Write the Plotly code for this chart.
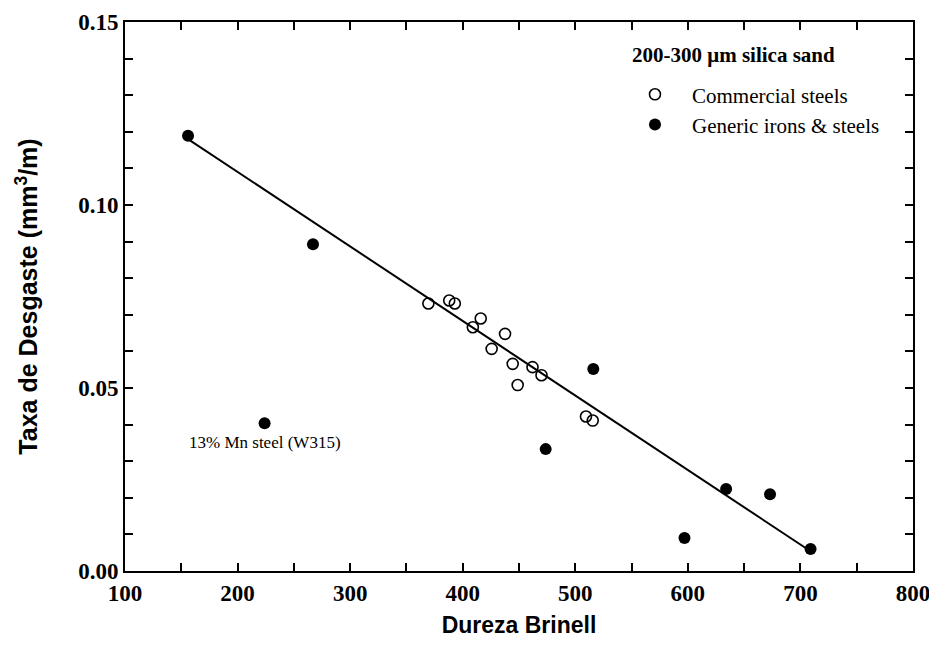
import plotly.graph_objects as go

# Commercial steels (open circles)
COMM_HB = [369.5, 388, 393, 409, 416, 425.7, 437.6, 444.4, 448.8, 462, 470, 509.5, 515.5]
COMM_WEAR = [0.0731, 0.0739, 0.0731, 0.0666, 0.0690, 0.0607, 0.0648, 0.0566, 0.0508, 0.0557, 0.0535, 0.0422, 0.0411]

# Generic irons & steels (filled circles)
GEN_HB = [156, 267, 224, 473.7, 516, 597, 634, 673, 709]
GEN_WEAR = [0.1189, 0.0893, 0.0404, 0.0333, 0.0552, 0.0090, 0.0224, 0.0210, 0.0060]

# Regression line
FIT_HB = [156, 710]
FIT_WEAR = [0.1180, 0.0052]

X_TICKS = list(range(100, 801, 50))
X_LABELS = [str(v) if v % 100 == 0 else "" for v in X_TICKS]
Y_TICKS = [i / 100 for i in range(0, 16)]
Y_LABELS = [f"{v:.2f}" if i % 5 == 0 else "" for i, v in enumerate(Y_TICKS)]

SERIF = "Liberation Serif"
SANS = "Liberation Sans"

fig = go.Figure()
fig.add_trace(go.Scatter(x=FIT_HB, y=FIT_WEAR, mode="lines",
                         line=dict(color="black", width=2), showlegend=False,
                         hoverinfo="skip"))
fig.add_trace(go.Scatter(x=COMM_HB, y=COMM_WEAR, mode="markers", name="Commercial steels",
                         legendgroup="a",
                         marker=dict(symbol="circle-open", size=11, color="black",
                                     line=dict(width=1.6, color="black"))))
fig.add_trace(go.Scatter(x=GEN_HB, y=GEN_WEAR, mode="markers", name="Generic irons & steels",
                         legendgroup="b",
                         marker=dict(symbol="circle", size=12, color="black")))

axis_common = dict(showline=True, linecolor="black", linewidth=2, mirror="ticks",
                   ticks="inside", tickcolor="black", tickwidth=1.5, ticklen=8,
                   showgrid=False, zeroline=False)

fig.update_xaxes(range=[100, 800], tickmode="array", tickvals=X_TICKS, ticktext=X_LABELS,
                 tickfont=dict(family=SERIF, size=23, color="black", weight="bold"),
                 title=dict(text="<b>Dureza Brinell</b>", font=dict(family=SANS, size=23, color="black"),
                            standoff=12),
                 **axis_common)
fig.update_yaxes(range=[0, 0.15], tickmode="array", tickvals=Y_TICKS, ticktext=Y_LABELS,
                 tickfont=dict(family=SERIF, size=23, color="black", weight="bold"),
                 title=dict(text="<b>Taxa de Desgaste (mm<sup>3</sup>/m)</b>",
                            font=dict(family=SANS, size=25, color="black"), standoff=33),
                 **axis_common)

fig.add_annotation(x=0.641, y=0.940, xref="paper", yref="paper", xanchor="left", yanchor="middle",
                   text="<b>200-300 μm silica sand</b>", showarrow=False,
                   font=dict(family=SERIF, size=21, color="black"))
fig.add_annotation(x=224, y=0.0404, xref="x", yref="y", xanchor="center", yanchor="middle",
                   yshift=-19, text="13% Mn steel (W315)", showarrow=False,
                   font=dict(family=SERIF, size=17, color="black"))

fig.update_layout(
    width=929, height=647,
    margin=dict(l=117, r=24, t=14, b=84, autoexpand=False),
    paper_bgcolor="white", plot_bgcolor="white",
    legend=dict(x=0.6256, y=0.905, xanchor="left", yanchor="top",
                font=dict(family=SERIF, size=21, color="black"),
                bgcolor="rgba(0,0,0,0)", tracegroupgap=0, itemsizing="trace",
                itemwidth=64),
)

fig.write_html("out.html")
